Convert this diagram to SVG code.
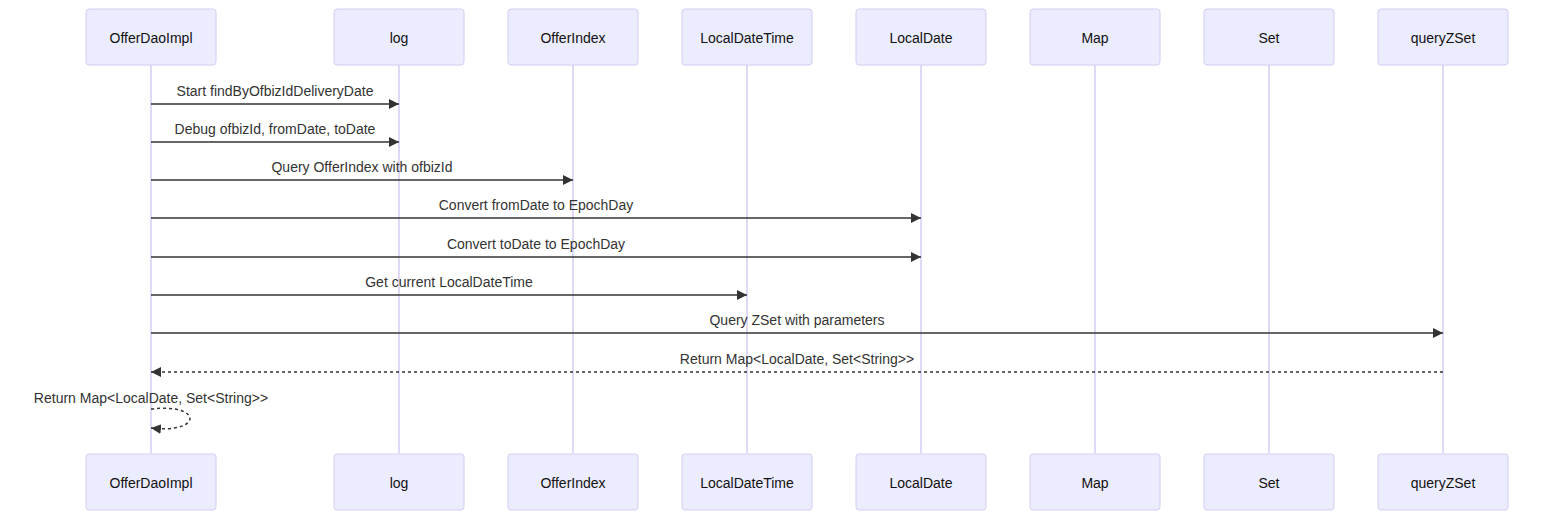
<svg xmlns="http://www.w3.org/2000/svg" width="1568" height="526" viewBox="0 0 1568 526">
<style>
.actor rect{fill:#ECECFF;stroke:#d4ccf4;stroke-width:1}
.actor text{font-family:"Liberation Sans",Arial,sans-serif;font-size:14px;fill:#111;text-anchor:middle;dominant-baseline:central}
.life{stroke:#d4ccf4;stroke-width:1.5}
.msg{stroke:#333;stroke-width:1.5;fill:none}
.dot{stroke-dasharray:3,3}
.lbl{font-family:"Liberation Sans",Arial,sans-serif;font-size:14px;fill:#333;text-anchor:middle}
</style>
<defs>
<marker id="ah" markerWidth="12" markerHeight="12" refX="10" refY="5" orient="auto" markerUnits="userSpaceOnUse" viewBox="0 0 12 10">
<path d="M0,0 L10,5 L0,10 z" fill="#333"/>
</marker>
</defs>
<g id="lifelines">
<line class="life" x1="151" y1="65" x2="151" y2="453"/>
<line class="life" x1="399" y1="65" x2="399" y2="453"/>
<line class="life" x1="573" y1="65" x2="573" y2="453"/>
<line class="life" x1="747" y1="65" x2="747" y2="453"/>
<line class="life" x1="921" y1="65" x2="921" y2="453"/>
<line class="life" x1="1095" y1="65" x2="1095" y2="453"/>
<line class="life" x1="1269" y1="65" x2="1269" y2="453"/>
<line class="life" x1="1443" y1="65" x2="1443" y2="453"/>
</g>
<g id="OfferDaoImpl" class="actor"><rect x="86" y="9" width="130" height="56" rx="3"/><text x="151" y="38">OfferDaoImpl</text><rect x="86" y="454" width="130" height="56" rx="3"/><text x="151" y="483">OfferDaoImpl</text></g>
<g id="log" class="actor"><rect x="334" y="9" width="130" height="56" rx="3"/><text x="399" y="38">log</text><rect x="334" y="454" width="130" height="56" rx="3"/><text x="399" y="483">log</text></g>
<g id="OfferIndex" class="actor"><rect x="508" y="9" width="130" height="56" rx="3"/><text x="573" y="38">OfferIndex</text><rect x="508" y="454" width="130" height="56" rx="3"/><text x="573" y="483">OfferIndex</text></g>
<g id="LocalDateTime" class="actor"><rect x="682" y="9" width="130" height="56" rx="3"/><text x="747" y="38">LocalDateTime</text><rect x="682" y="454" width="130" height="56" rx="3"/><text x="747" y="483">LocalDateTime</text></g>
<g id="LocalDate" class="actor"><rect x="856" y="9" width="130" height="56" rx="3"/><text x="921" y="38">LocalDate</text><rect x="856" y="454" width="130" height="56" rx="3"/><text x="921" y="483">LocalDate</text></g>
<g id="Map" class="actor"><rect x="1030" y="9" width="130" height="56" rx="3"/><text x="1095" y="38">Map</text><rect x="1030" y="454" width="130" height="56" rx="3"/><text x="1095" y="483">Map</text></g>
<g id="Set" class="actor"><rect x="1204" y="9" width="130" height="56" rx="3"/><text x="1269" y="38">Set</text><rect x="1204" y="454" width="130" height="56" rx="3"/><text x="1269" y="483">Set</text></g>
<g id="queryZSet" class="actor"><rect x="1378" y="9" width="130" height="56" rx="3"/><text x="1443" y="38">queryZSet</text><rect x="1378" y="454" width="130" height="56" rx="3"/><text x="1443" y="483">queryZSet</text></g>
<g id="connectors">
<line class="msg" x1="151" y1="104" x2="399" y2="104" marker-end="url(#ah)"/>
<text class="lbl" x="275" y="96">Start findByOfbizIdDeliveryDate</text>
<line class="msg" x1="151" y1="142" x2="399" y2="142" marker-end="url(#ah)"/>
<text class="lbl" x="275" y="134">Debug ofbizId, fromDate, toDate</text>
<line class="msg" x1="151" y1="180" x2="573" y2="180" marker-end="url(#ah)"/>
<text class="lbl" x="362" y="172">Query OfferIndex with ofbizId</text>
<line class="msg" x1="151" y1="218" x2="921" y2="218" marker-end="url(#ah)"/>
<text class="lbl" x="536" y="210">Convert fromDate to EpochDay</text>
<line class="msg" x1="151" y1="257" x2="921" y2="257" marker-end="url(#ah)"/>
<text class="lbl" x="536" y="249">Convert toDate to EpochDay</text>
<line class="msg" x1="151" y1="295" x2="747" y2="295" marker-end="url(#ah)"/>
<text class="lbl" x="449" y="287">Get current LocalDateTime</text>
<line class="msg" x1="151" y1="333" x2="1443" y2="333" marker-end="url(#ah)"/>
<text class="lbl" x="797" y="325">Query ZSet with parameters</text>
<line class="msg dot" x1="1443" y1="372" x2="151" y2="372" marker-end="url(#ah)"/>
<text class="lbl" x="797" y="364">Return Map&lt;LocalDate, Set&lt;String&gt;&gt;</text>
<path class="msg dot" d="M151,409 C203,403 203,434 151,428" marker-end="url(#ah)"/>
<text class="lbl" x="151" y="403">Return Map&lt;LocalDate, Set&lt;String&gt;&gt;</text>
</g>
</svg>
